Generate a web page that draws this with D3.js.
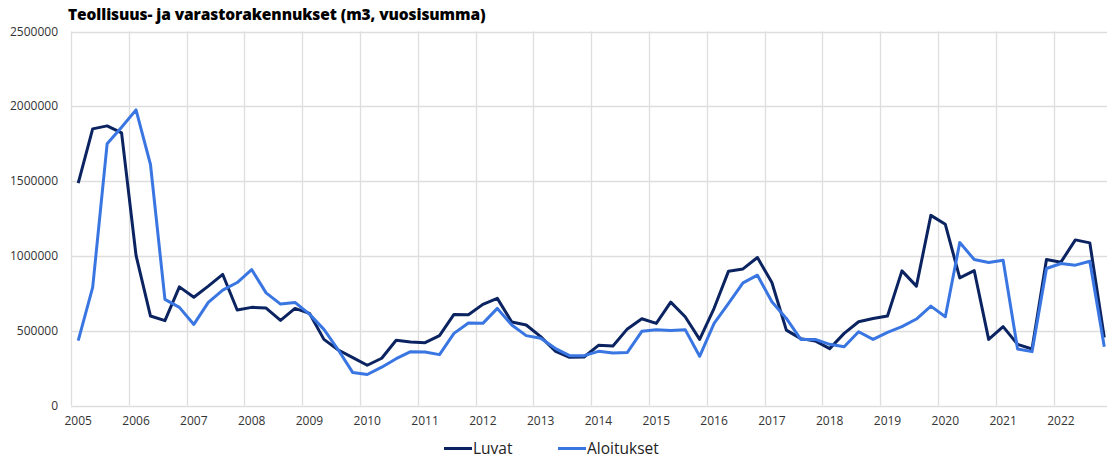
<!DOCTYPE html>
<html>
<head>
<meta charset="utf-8">
<script src="https://cdn.jsdelivr.net/npm/d3@7"></script>
<style>
  body { margin: 0; background: #fff; }
  text { font-family: "Open Sans", "Noto Sans", sans-serif; }
</style>
</head>
<body>
<div id="chart"></div>
<script>
var width = 1107
var height = 459

// quarterly values, 2005 Q1 - 2022 Q4 (thousand m3, yearly sum)
const years = d3.range(2005, 2023);
const quarters = ["Q1", "Q2", "Q3", "Q4"];
const luvat = [
  1487, 1849, 1869, 1822,
  1004, 598, 567, 793,
  724, 798, 876, 638,
  656, 651, 569, 649,
  616, 442, 371, 320,
  269, 316, 436, 424,
  420, 467, 609, 607,
  676, 716, 558, 538,
  460, 364, 322, 324,
  402, 398, 512, 580,
  549, 691, 593, 442,
  650, 898, 913, 989,
  822, 504, 447, 431,
  380, 482, 560, 582,
  598, 900, 798, 1271,
  1211, 853, 902, 442,
  527, 409, 378, 976,
  958, 1107, 1087, 455
];
const aloitukset = [
  433, 789, 1749, 1860,
  1976, 1611, 709, 656,
  542, 689, 771, 822,
  909, 753, 678, 689,
  611, 509, 371, 220,
  207, 256, 313, 360,
  358, 340, 482, 551,
  549, 649, 538, 467,
  449, 382, 333, 333,
  362, 351, 355, 496,
  507, 502, 507, 329,
  549, 682, 820, 871,
  693, 582, 442, 442,
  409, 393, 493, 442,
  489, 527, 578, 664,
  593, 1089, 976, 956,
  971, 378, 360, 916,
  949, 938, 964, 393
];
const yTicks = [0, 500000, 1000000, 1500000, 2000000, 2500000];
const seriesNames = ["Luvat", "Aloitukset"];
const seriesColors = ["#0b2461", "#3a76e2"];

const periods = [];
years.forEach(function(y) { quarters.forEach(function(q) { periods.push(y + q) }) });

const svg = d3.select("#chart")
    .append('svg')
    .attr('width', width)
    .attr('height', height);

const plotLeft = 71, plotRight = 1111.5, plotTop = 31.5, plotBottom = 405.5;

const x = d3.scaleBand().domain(periods).range([plotLeft, plotRight]).padding(0);
const y = d3.scaleLinear().domain([0, 2500000]).range([plotBottom, plotTop]);

// title
svg.append("text")
    .attr("x", 68)
    .attr("y", 20)
    .style("font-weight", "800")
    .style("font-size", "15.5px")
    .style("letter-spacing", "-0.1px")
    .attr("fill", "#000")
    .text("Teollisuus- ja varastorakennukset (m3, vuosisumma)");

const grid = svg.append("g");
// horizontal gridlines
grid.selectAll("line.h")
    .data(yTicks)
    .enter()
    .append("line")
    .attr("class", "h")
    .attr("x1", plotLeft).attr("x2", width)
    .attr("y1", d => Math.round(y(d)) + 0.5).attr("y2", d => Math.round(y(d)) + 0.5)
    .attr("stroke", "#dedede")
    .attr("stroke-width", 1.3);
// vertical gridlines at year boundaries
grid.selectAll("line.v")
    .data(years)
    .enter()
    .append("line")
    .attr("class", "v")
    .attr("x1", d => Math.round(x(d + "Q1")) + 0.5).attr("x2", d => Math.round(x(d + "Q1")) + 0.5)
    .attr("y1", plotTop).attr("y2", plotBottom)
    .attr("stroke", "#dedede")
    .attr("stroke-width", 1.3);

// y axis labels
svg.append("g")
    .selectAll("text")
    .data(yTicks)
    .enter()
    .append("text")
    .attr("x", 58)
    .attr("y", d => y(d) + 4)
    .attr("text-anchor", "end")
    .style("font-size", "12px")
    .attr("fill", "#333")
    .text(d => d);

// x axis labels
svg.append("g")
    .selectAll("text")
    .data(years)
    .enter()
    .append("text")
    .attr("x", d => x(d + "Q1") + x.bandwidth() / 2)
    .attr("y", 425)
    .attr("text-anchor", "middle")
    .style("font-size", "12px")
    .attr("fill", "#333")
    .text(d => d);

const line = d3.line()
    .x((d, i) => x(periods[i]) + x.bandwidth() / 2)
    .y(d => y(d * 1000));

[luvat, aloitukset].forEach(function(s, k) {
  svg.append("path")
      .datum(s)
      .attr("d", line)
      .attr("fill", "none")
      .attr("stroke", seriesColors[k])
      .attr("stroke-width", 3)
      .attr("stroke-linejoin", "round");
});

// legend
const legendX = [444, 558];
const legend = svg.append("g");
seriesNames.forEach(function(name, k) {
  legend.append("line")
      .attr("x1", legendX[k]).attr("x2", legendX[k] + 28)
      .attr("y1", 448.5).attr("y2", 448.5)
      .attr("stroke", seriesColors[k])
      .attr("stroke-width", 3);
  legend.append("text")
      .attr("x", legendX[k] + 29)
      .attr("y", 454)
      .style("font-size", "15.5px")
      .attr("fill", "#222")
      .text(name);
});
</script>
</body>
</html>
